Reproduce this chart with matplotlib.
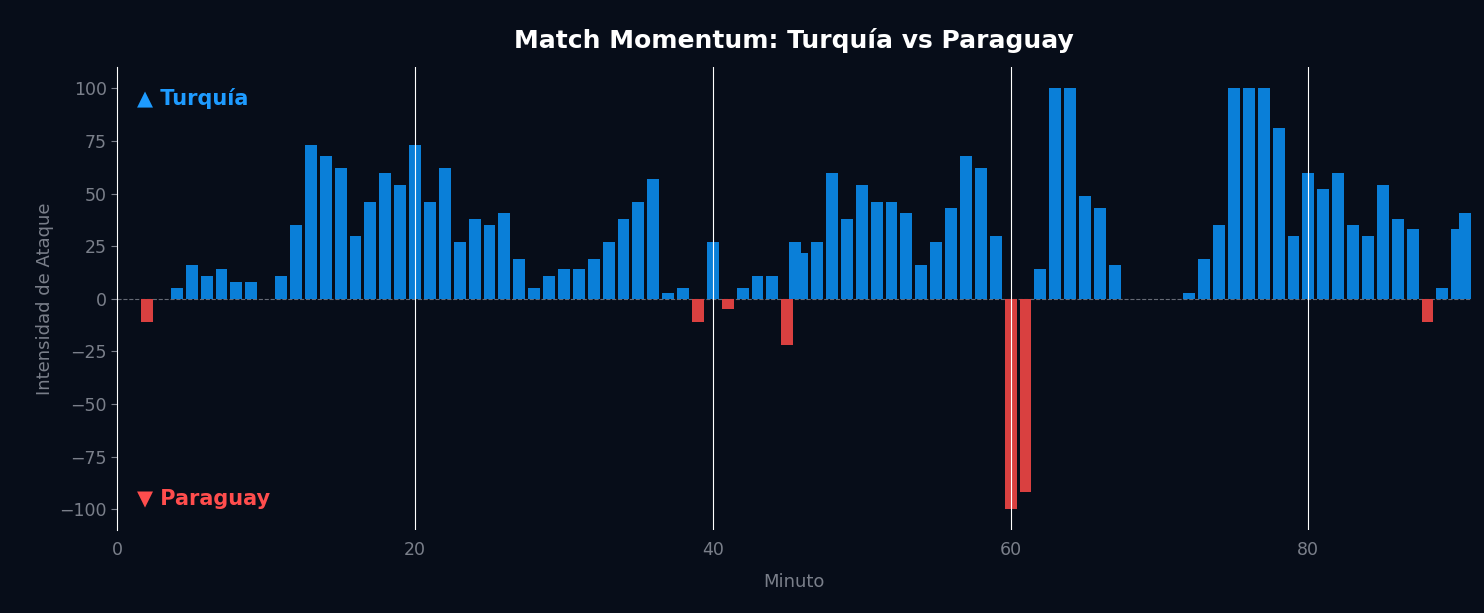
import matplotlib
matplotlib.use("Agg")
import matplotlib.pyplot as plt

minutes = [2,4,5,6,7,8,9,11,12,13,14,15,16,17,18,19,20,21,22,23,24,25,26,27,28,29,30,
           31,32,33,34,35,36,37,38,39,40,41,42,43,44,45,45.5,46,47,48,49,50,51,52,53,54,55,
           56,57,58,59,60,61,62,63,64,65,66,67,72,73,74,75,76,77,78,79,80,81,82,83,84,85,
           86,87,88,89,90,90.5]
values = [-11,5,16,11,14,8,8,11,35,73,68,62,30,46,60,54,73,46,62,27,38,35,41,19,5,11,14,
          14,19,27,38,46,57,3,5,-11,27,-5,5,11,11,-22,27,22,27,60,38,54,46,46,41,16,27,
          43,68,62,30,-100,-92,14,100,100,49,43,16,3,19,35,100,100,100,81,30,60,52,60,35,30,54,
          38,33,-11,5,33,41]

bg = "#070d19"
fig = plt.figure(figsize=(14.84, 6.13), dpi=100, facecolor=bg)
ax = fig.add_axes([0.079, 0.135, 0.912, 0.755], facecolor=bg)
colors = ["#0a7fd8" if v >= 0 else "#d94040" for v in values]
ax.bar(minutes, values, width=0.8, color=colors, zorder=2)
ax.axhline(0, color="#666a75", lw=0.8, ls="--", zorder=1)
for xv in [20, 40, 60, 80]:
    ax.axvline(xv, color="white", lw=0.8, zorder=3)
ax.set_xlim(0, 90.9)
ax.set_ylim(-110, 110)
ax.set_xticks([0, 20, 40, 60, 80])
ax.set_yticks([-100, -75, -50, -25, 0, 25, 50, 75, 100])
for s in ["top", "right", "bottom"]:
    ax.spines[s].set_visible(False)
ax.spines["left"].set_color("white")
ax.spines["left"].set_linewidth(0.8)
ax.tick_params(colors="#7a7f8a", labelsize=12.5, length=4)
ax.tick_params(axis="x", length=0, pad=8)
ax.set_xlabel("Minuto", color="#7a7f8a", fontsize=13, labelpad=10)
ax.set_ylabel("Intensidad de Ataque", color="#7a7f8a", fontsize=13)
ax.set_title("Match Momentum: Turquía vs Paraguay", color="white", fontsize=18,
             fontweight="bold", pad=14)
ax.text(1.3, 95, "▲ Turquía", color="#1e9bff", fontsize=15, fontweight="bold", va="center")
ax.text(1.3, -95, "▼ Paraguay", color="#ff4d4d", fontsize=15, fontweight="bold", va="center")
fig.savefig("out.png", dpi=100, facecolor=bg)
